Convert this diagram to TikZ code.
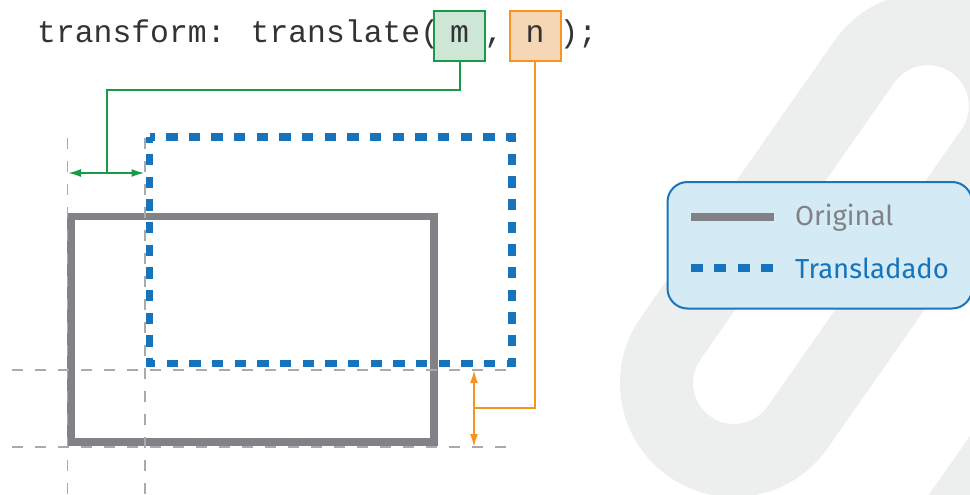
\documentclass[tikz,border=0pt]{standalone}
\usepackage{fontspec}
\setmainfont{Liberation Serif}
\newfontfamily\codefont{Liberation Mono}
\newfontfamily\lgdfont{Fira Sans}
\usetikzlibrary{arrows.meta}
\definecolor{wm}{RGB}{237,239,238}
\definecolor{origgray}{RGB}{129,130,133}
\definecolor{transblue}{RGB}{22,116,188}
\definecolor{guidegray}{RGB}{168,170,173}
\definecolor{mgreen}{RGB}{27,153,74}
\definecolor{mgreenfill}{RGB}{205,230,214}
\definecolor{norange}{RGB}{247,148,30}
\definecolor{norangefill}{RGB}{245,215,181}
\definecolor{codegray}{RGB}{51,51,51}
\definecolor{lgdfill}{RGB}{212,234,245}
\definecolor{lgdborder}{RGB}{27,117,188}
\begin{document}
\begin{tikzpicture}[x=1pt,y=-1pt,
  link/.style={draw=wm, line width=73pt, rounded corners=77.5pt},
  code/.style={font=\codefont\fontsize{31.4}{36}\selectfont, text=codegray, inner sep=0pt},
  argbox/.style={code, line width=2pt, minimum width=51pt, minimum height=50pt, text height=14pt, text depth=0pt},
  origline/.style={draw=origgray, line width=7.7pt, miter limit=10},
  transline/.style={draw=transblue, line width=7.7pt, dash pattern=on 11.33pt off 11.33pt, dash phase=5.66pt},
  guide/.style={draw=guidegray, line width=1.8pt, dash pattern=on 11pt off 12pt},
  gconn/.style={draw=mgreen, line width=2pt},
  oconn/.style={draw=norange, line width=2pt},
  tip/.style={arrows={Latex[length=13pt,width=8pt]-Latex[length=13pt,width=8pt]}},
  lgdbox/.style={draw=lgdborder, fill=lgdfill, line width=2pt, rounded corners=20pt, minimum width=304.5pt, minimum height=126.5pt, anchor=north west},
  lgdtext/.style={font=\lgdfont\fontsize{27.5}{32}\selectfont, inner sep=0pt, anchor=base west}
]
\useasboundingbox (0,0) rectangle (970,495);
\fill[white] (0,0) rectangle (970,495);
% watermark
\begin{scope}
\clip (0,0) rectangle (970,495);
\draw[link, shift={(734,383)}, rotate=55] (-77.5,-77.5) rectangle (415.5,77.5);
\draw[link, shift={(974,629)}, rotate=55] (-77.5,-77.5) rectangle (415.5,77.5);
\end{scope}
% code line
\node[code, anchor=base west] (code1) at (37,43) {transform: translate(};
\node[argbox, draw=mgreen, fill=mgreenfill] (mbox) at (459.5,36) {m};
\node[code, anchor=base] (comma) at (494,43) {,};
\node[argbox, draw=norange, fill=norangefill] (nbox) at (535,36) {n};
\node[code, anchor=base west] (code2) at (559.3,43) {);};
% rectangles
\draw[origline] (71.3,216.5) rectangle (434,442.3);
\draw[transline] (149.5,137) rectangle (512,363.5);
% guides
\draw[guide] (67.5,138) -- (67.5,495);
\draw[guide] (145,138) -- (145,495);
\draw[guide] (12,370) -- (512,370);
\draw[guide] (12,447) -- (512,447);
% green connector (m)
\coordinate (gL) at (68,173);
\coordinate (gR) at (144.5,173);
\coordinate (gbend) at (106.5,90);
\coordinate (gj) at (106.5,173);
\draw[gconn] (mbox.south) |- (gbend) -- (gj);
\draw[gconn, tip] (gL) -- (gR);
% orange connector (n)
\coordinate (oT) at (474,370);
\coordinate (oB) at (474,447);
\coordinate (obend) at (474,408);
\draw[oconn] (nbox.south) |- (obend);
\draw[oconn, tip] (oT) -- (oB);
% legend
\begin{scope}
\clip (0,0) rectangle (970,495);
\node[lgdbox] (legend) at (666.5,181) {};
\end{scope}
\draw[draw=origgray, line width=8pt] (691,217) -- (774,217);
\draw[draw=transblue, line width=8pt, dash pattern=on 12pt off 11.3pt] (691,268) -- (773,268);
\node[lgdtext, text=origgray] (lorig) at (795,225.5) {Original};
\node[lgdtext, text=transblue] (ltrans) at (795,278) {Transladado};
\end{tikzpicture}
\end{document}
